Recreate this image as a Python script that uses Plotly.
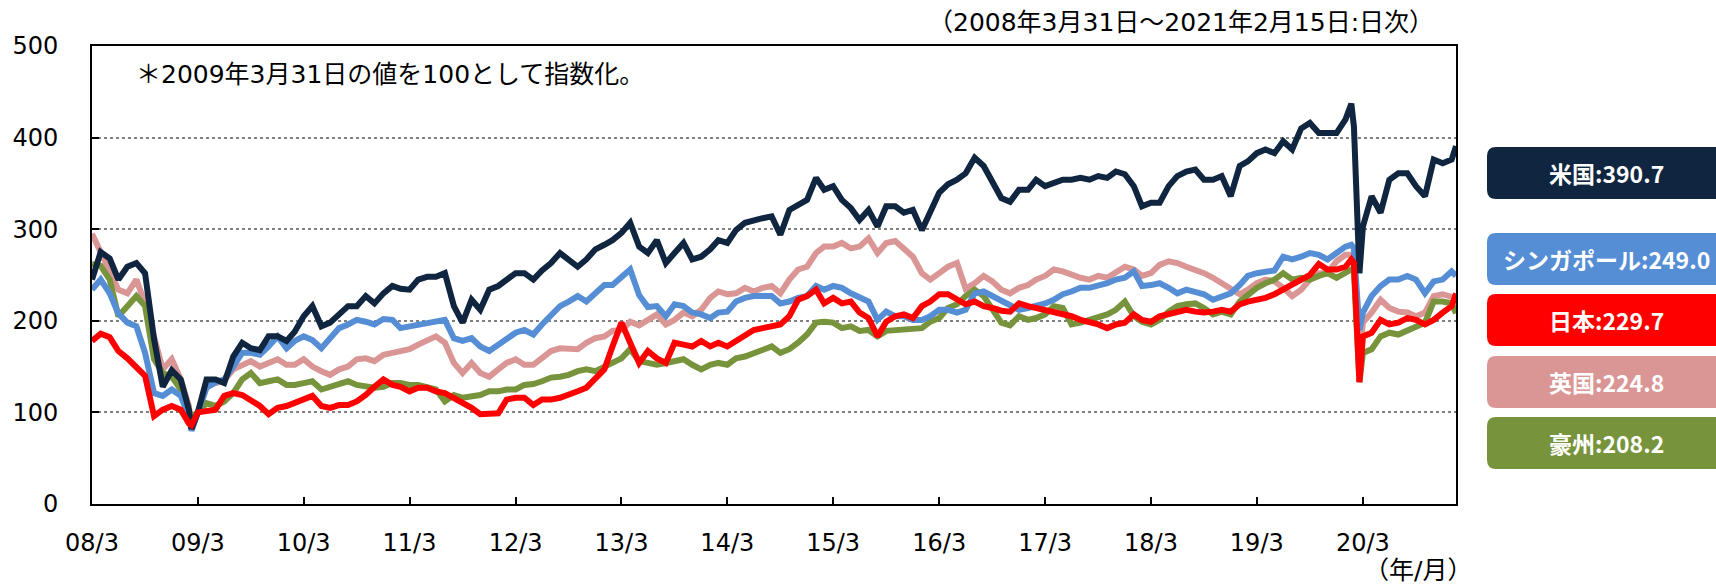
import pandas as pd
import plotly.graph_objects as go

# ---------------- data ----------------
# monthly month-end observations 2008/03 ... 2021/01 (155 points)
try:
    month_ends = pd.date_range("2008-03-31", periods=155, freq="ME")
except Exception:
    month_ends = pd.date_range("2008-03-31", periods=155, freq="M")
# extra daily observations at key turning points
extra_dates = ["2009-03-09", "2020-02-20", "2020-03-19", "2021-02-15"]

us_monthly = [
    245, 275, 268, 245, 259, 263, 252, 180, 128, 146, 136, 103,
    100, 136, 136, 132, 161, 176, 170, 168, 183, 183, 178, 188,
    205, 216, 194, 198, 208, 216, 216, 227, 219, 230, 238, 235,
    234, 245, 248, 248, 252, 216, 198, 223, 212, 234, 238, 245,
    252, 252, 245, 255, 263, 274, 267, 259, 267, 278, 283, 288,
    296, 307, 281, 274, 288, 263, 274, 285, 267, 270, 278, 288,
    285, 299, 307, 310, 312, 314, 294, 321, 327, 332, 356, 343,
    347, 332, 323, 310, 321, 303, 325, 325, 318, 321, 299, 318,
    340, 349, 354, 361, 378, 369, 350, 334, 330, 343, 343, 354,
    347, 350, 354, 354, 356, 354, 358, 356, 363, 360, 347, 325,
    329, 329, 347, 358, 363, 365, 354, 354, 358, 336, 369, 374,
    383, 387, 383, 396, 387, 410, 416, 405, 405, 405, 420, 412,
    303, 336, 318, 354, 361, 361, 347, 336, 376, 372, 376,
]
us_extra = [82, 437, 252, 390.7]

sg_monthly = [
    234, 245, 230, 208, 198, 194, 165, 121, 118, 125, 118, 96,
    100, 127, 133, 136, 150, 165, 165, 163, 172, 183, 170, 178,
    183, 179, 170, 181, 192, 196, 201, 199, 196, 202, 201, 192,
    194, 196, 198, 199, 201, 181, 178, 181, 172, 167, 174, 179,
    187, 190, 185, 196, 207, 216, 221, 227, 221, 230, 239, 239,
    247, 256, 228, 215, 216, 205, 218, 216, 209, 207, 203, 209,
    210, 221, 225, 227, 227, 227, 219, 221, 225, 227, 238, 234,
    238, 236, 230, 225, 221, 201, 210, 205, 205, 201, 201, 205,
    212, 212, 209, 212, 230, 232, 227, 221, 216, 212, 214, 216,
    219, 223, 229, 232, 236, 236, 238, 241, 245, 247, 254, 238,
    239, 241, 236, 230, 234, 232, 229, 223, 227, 230, 239, 249,
    252, 254, 255, 270, 267, 270, 274, 272, 267, 274, 281, 279,
    209, 227, 238, 245, 245, 249, 245, 230, 243, 245, 254,
]
sg_extra = [80, 283, 190, 249.0]

jp_monthly = [
    178, 186, 182, 167, 159, 150, 140, 96, 103, 107, 103, 88,
    100, 101, 103, 118, 121, 119, 114, 107, 98, 105, 107, 110,
    114, 118, 107, 105, 108, 108, 112, 119, 128, 136, 130, 128,
    123, 127, 127, 123, 121, 116, 110, 105, 98, 98, 99, 114,
    116, 116, 108, 114, 114, 116, 119, 123, 127, 136, 147, 172,
    198, 176, 154, 167, 159, 154, 176, 174, 172, 178, 172, 176,
    172, 178, 185, 190, 192, 194, 196, 205, 223, 227, 234, 219,
    225, 219, 221, 209, 203, 183, 199, 205, 207, 203, 216, 221,
    229, 229, 223, 218, 221, 216, 214, 211, 210, 219, 216, 214,
    212, 209, 207, 205, 201, 199, 196, 192, 196, 198, 207, 201,
    199, 205, 207, 210, 212, 210, 209, 210, 212, 210, 218, 221,
    223, 225, 229, 234, 239, 245, 250, 262, 256, 256, 259, 263,
    183, 187, 201, 196, 198, 203, 201, 196, 201, 209, 216,
]
jp_extra = [86, 267, 133, 229.7]

uk_monthly = [
    295, 275, 256, 234, 230, 245, 219, 183, 147, 158, 136, 107,
    100, 128, 132, 135, 147, 152, 156, 150, 154, 158, 152, 152,
    158, 150, 145, 141, 147, 150, 158, 159, 156, 163, 165, 167,
    169, 174, 179, 183, 176, 154, 143, 154, 143, 139, 147, 154,
    158, 152, 152, 159, 167, 170, 169, 169, 176, 181, 183, 189,
    190, 199, 195, 200, 207, 196, 201, 209, 205, 212, 225, 232,
    229, 230, 236, 232, 236, 238, 230, 245, 256, 259, 274, 281,
    281, 285, 279, 281, 290, 274, 285, 287, 278, 270, 252, 245,
    252, 259, 263, 235, 241, 249, 243, 234, 230, 236, 239, 245,
    249, 256, 254, 250, 247, 245, 249, 247, 252, 259, 256, 249,
    252, 261, 265, 263, 259, 256, 252, 247, 241, 234, 229, 234,
    241, 245, 243, 236, 227, 234, 245, 252, 252, 265, 272, 267,
    198, 209, 223, 214, 210, 209, 205, 209, 227, 229, 227,
]
uk_extra = [84, 272, 160, 224.8]

au_monthly = [
    262, 260, 245, 205, 216, 227, 216, 158, 143, 139, 125, 103,
    100, 110, 107, 112, 121, 136, 143, 132, 134, 136, 130, 130,
    132, 134, 125, 128, 130, 134, 130, 128, 127, 128, 132, 132,
    130, 130, 128, 125, 112, 119, 116, 118, 119, 123, 123, 125,
    125, 130, 131, 134, 138, 139, 141, 145, 147, 145, 150, 154,
    159, 169, 156, 154, 152, 154, 156, 158, 152, 147, 152, 154,
    152, 159, 161, 165, 169, 172, 165, 169, 176, 185, 198, 199,
    198, 192, 194, 189, 190, 183, 189, 190, 190, 192, 192, 199,
    203, 214, 218, 227, 234, 227, 214, 198, 195, 205, 201, 203,
    207, 216, 214, 196, 198, 201, 203, 207, 212, 221, 205, 199,
    196, 201, 210, 216, 218, 219, 214, 207, 210, 207, 221, 229,
    236, 241, 245, 252, 245, 247, 245, 249, 252, 247, 252, 254,
    165, 169, 183, 187, 185, 190, 194, 198, 221, 221, 219,
]
au_extra = [95, 256, 133, 208.2]

series_names = ["英国", "豪州", "シンガポール", "米国", "日本"]
series_colors = ["#D99694", "#77933C", "#558ED5", "#10253F", "#FF0000"]
series_monthly = [uk_monthly, au_monthly, sg_monthly, us_monthly, jp_monthly]
series_extra = [uk_extra, au_extra, sg_extra, us_extra, jp_extra]

# legend boxes (top to bottom)
box_labels = ["米国:390.7", "シンガポール:249.0", "日本:229.7", "英国:224.8", "豪州:208.2"]
box_colors = ["#10253F", "#558ED5", "#FF0000", "#D99694", "#77933C"]

tick_dates = ["%d-03-31" % y for y in range(2008, 2021)]
tick_text = ["%02d/3" % (y % 100) for y in range(2008, 2021)]
y_ticks = [0, 100, 200, 300, 400, 500]

# ---------------- figure ----------------
W, H = 1716, 586
L, R, T, B = 92, 260, 46, 82
PW, PH = W - L - R, H - T - B


def px2x(px):
    return (px - L) / PW


def py2y(py):
    return (H - B - py) / PH


def build(monthly, extra):
    d = list(month_ends.strftime("%Y-%m-%d")) + extra_dates
    v = list(monthly) + list(extra)
    pairs = sorted(zip(d, v))
    return [p[0] for p in pairs], [p[1] for p in pairs]


fig = go.Figure()
for name, col, mon, ext in zip(series_names, series_colors, series_monthly, series_extra):
    xs, ys = build(mon, ext)
    fig.add_trace(go.Scatter(x=xs, y=ys, mode="lines", name=name,
                             line=dict(color=col, width=6)))

tick_font = dict(family="DejaVu Sans, Noto Sans CJK JP", size=24, color="black")
fig.update_layout(
    width=W, height=H,
    margin=dict(l=L, r=R, t=T, b=B, pad=0),
    paper_bgcolor="white", plot_bgcolor="white",
    showlegend=False,
    xaxis=dict(
        type="date", range=["2008-03-31", "2021-02-15"],
        tickmode="array", tickvals=tick_dates, ticktext=tick_text,
        ticks="inside", ticklen=7, tickwidth=1.5, tickcolor="black",
        showline=True, linecolor="black", linewidth=2, mirror=True,
        showgrid=False, zeroline=False, tickfont=tick_font,
        ticklabelstandoff=16,
    ),
    yaxis=dict(
        range=[0, 500], tickmode="array", tickvals=y_ticks,
        ticks="inside", ticklen=7, tickwidth=1.5, tickcolor="black",
        showline=True, linecolor="black", linewidth=2, mirror=True,
        showgrid=True, gridcolor="#808080", gridwidth=1.5, griddash="dot",
        zeroline=False, tickfont=tick_font, ticklabelstandoff=27,
    ),
)

txt_font = dict(family="DejaVu Sans, Noto Sans CJK JP", size=25, color="black")
fig.add_annotation(x=px2x(134), y=py2y(74), xref="paper", yref="paper",
                   text="＊2009年3月31日の値を100として指数化。", showarrow=False,
                   xanchor="left", yanchor="middle", font=txt_font)
fig.add_annotation(x=px2x(1436), y=py2y(22), xref="paper", yref="paper",
                   text="（2008年3月31日～2021年2月15日:日次）", showarrow=False,
                   xanchor="right", yanchor="middle", font=txt_font)
fig.add_annotation(x=px2x(1474), y=py2y(570), xref="paper", yref="paper",
                   text="（年/月）", showarrow=False,
                   xanchor="right", yanchor="middle", font=txt_font)


def rrect(x0, y0, x1, y1, r):
    X = px2x
    Y = py2y
    return ("M {a},{b} L {c},{b} Q {d},{b} {d},{e} L {d},{f} Q {d},{g} {c},{g} "
            "L {a},{g} Q {h},{g} {h},{f} L {h},{e} Q {h},{b} {a},{b} Z").format(
        a=X(x0 + r), b=Y(y0), c=X(x1 - r), d=X(x1), e=Y(y0 + r),
        f=Y(y1 - r), g=Y(y1), h=X(x0))


box_tops = [147, 233, 294, 356, 417]
box_h = 52
for lab, col, top in zip(box_labels, box_colors, box_tops):
    fig.add_shape(type="path", xref="paper", yref="paper",
                  path=rrect(1487, top, 1736, top + box_h, 9),
                  fillcolor=col, line=dict(width=0), layer="above")
    fig.add_annotation(x=px2x(1607), y=py2y(top + box_h / 2), xref="paper", yref="paper",
                       text="<b>%s</b>" % lab, showarrow=False,
                       xanchor="center", yanchor="middle",
                       font=dict(family="Noto Sans CJK JP", size=23, color="white"))

fig.write_html("out.html",
               config={"displayModeBar": False},
               post_script="document.body.style.margin='0px';document.body.style.overflow='hidden';")
